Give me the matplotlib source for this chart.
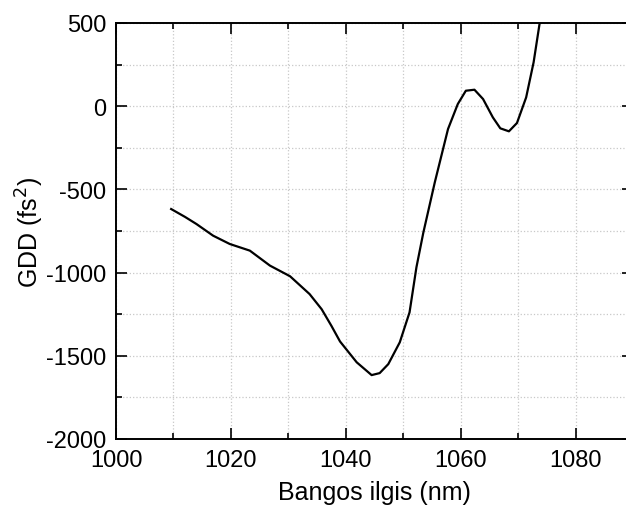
import matplotlib
matplotlib.use("Agg")
import matplotlib.pyplot as plt
from matplotlib.ticker import MultipleLocator

plt.rcParams['font.family'] = ['Liberation Sans', 'DejaVu Sans']
plt.rcParams['axes.unicode_minus'] = False

# Group delay dispersion versus wavelength
wavelength_nm = [1009.6, 1012.0, 1014.0, 1016.9, 1019.8, 1023.3, 1026.8, 1030.3,
                 1033.7, 1035.8, 1037.5, 1039.0, 1041.9, 1044.5, 1045.9, 1047.4,
                 1049.4, 1051.1, 1052.3, 1053.5, 1055.5, 1057.8, 1059.5, 1060.9,
                 1062.4, 1063.9, 1065.6, 1066.9, 1068.4, 1069.8, 1071.4, 1072.7,
                 1073.8]
gdd_fs2 = [-618, -665, -708, -778, -828, -868, -958, -1022,
           -1129, -1220, -1320, -1414, -1539, -1616, -1604, -1550,
           -1419, -1239, -968, -760, -457, -137, 13, 93,
           99, 43, -67, -133, -151, -101, 53, 264,
           510]

fig = plt.figure(figsize=(6.26, 5.10), dpi=100)
ax = fig.add_axes([116 / 626, 70 / 510, 517 / 626, 416 / 510])

ax.plot(wavelength_nm, gdd_fs2, color='black', linewidth=1.6,
        solid_joinstyle='round')

ax.set_xlim(1000, 1090)
ax.set_ylim(-2000, 500)
ax.xaxis.set_major_locator(MultipleLocator(20))
ax.xaxis.set_minor_locator(MultipleLocator(10))
ax.yaxis.set_major_locator(MultipleLocator(500))
ax.yaxis.set_minor_locator(MultipleLocator(250))

ax.grid(True, which='both', linestyle=':', color='#c8c8c8', linewidth=0.9)
ax.set_axisbelow(True)

ax.tick_params(which='both', direction='in', top=True, right=True,
               labelsize=17, width=1.2)
ax.tick_params(axis='y', pad=7)
ax.tick_params(axis='x', pad=7)
ax.tick_params(which='major', length=8)
ax.tick_params(which='minor', length=4)
for sp in ax.spines.values():
    sp.set_linewidth(1.4)

ax.set_xlabel('Bangos ilgis (nm)', fontsize=18, labelpad=7)
ax.set_ylabel('GDD (fs$^2$)', fontsize=18, labelpad=0)

fig.savefig('out.png', dpi=100)
